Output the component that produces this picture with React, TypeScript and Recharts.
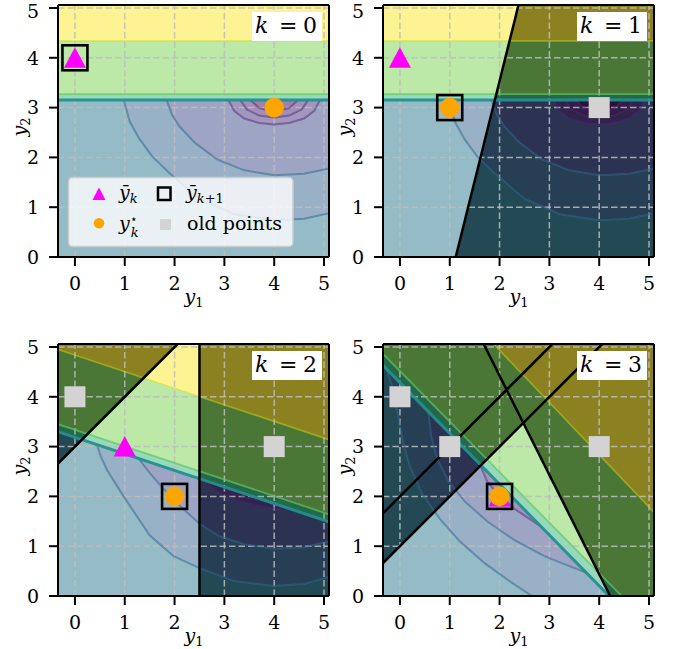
import React from 'react';
import { ComposedChart, XAxis, YAxis, Area, Line, Scatter, ReferenceLine, Legend, Label } from 'recharts';

type P = [number, number];

const FONT = "'DejaVu Serif', 'Liberation Serif', serif";
const X_DOMAIN: [number, number] = [-0.34, 5.1];
const Y_DOMAIN: [number, number] = [0, 5.06];
const AXIS_TICKS = [0, 1, 2, 3, 4, 5];
const GRID_X = [0, 1, 2, 3, 4, 5];
const GRID_Y = [1, 2, 3, 4, 5];
const PANEL_K = [0, 1, 2, 3];

// ---- k = 0 and k = 1 (same landscape) ----
const K01_YELLOW_EDGE = 4.34;
const K01_GREEN_EDGE = 3.27;
const K01_FEAS_EDGE = 3.15;
const K01_ARC1: P[] = [[0.98, 3.15], [1.1, 2.72], [1.3, 2.36], [1.55, 2.02], [1.9, 1.68], [2.5, 1.17], [3.2, 0.86], [4.0, 0.74], [4.6, 0.77], [5.1, 0.88]];
const K01_ARC2: P[] = [[1.84, 3.15], [1.95, 2.85], [2.1, 2.62], [2.4, 2.3], [2.85, 1.96], [3.4, 1.74], [4.0, 1.64], [4.6, 1.67], [5.1, 1.78]];
const K01_ARC3: P[] = [[3.08, 3.15], [3.2, 2.93], [3.4, 2.78], [3.7, 2.69], [4.0, 2.66], [4.3, 2.69], [4.6, 2.78], [4.8, 2.93], [4.92, 3.15]];
const K01_ARC4: P[] = [[3.32, 3.15], [3.45, 2.96], [3.7, 2.84], [4.0, 2.8], [4.3, 2.84], [4.55, 2.96], [4.68, 3.15]];
const K01_ARC5: P[] = [[3.52, 3.15], [3.7, 2.99], [4.0, 2.91], [4.3, 2.99], [4.48, 3.15]];
const K1_CUT: P[] = [[1.12, 0], [2.38, 5.06]];

// ---- k = 2 ----
const K2_YELLOW_EDGE: P[] = [[-0.34, 4.95], [5.1, 3.14]];
const K2_GREEN_EDGE: P[] = [[-0.34, 3.45], [5.1, 1.64]];
const K2_FEAS_EDGE: P[] = [[-0.34, 3.3], [5.1, 1.49]];
const K2_ARC1: P[] = [[0.44, 3.04], [0.52, 2.8], [0.65, 2.52], [0.97, 2.01], [1.5, 1.22], [1.98, 0.8], [2.48, 0.57], [3.19, 0.3], [3.99, 0.2], [4.6, 0.24], [5.1, 0.38]];
const K2_ARC2: P[] = [[1.28, 2.76], [1.5, 2.47], [1.75, 2.18], [2.05, 1.86], [2.5, 1.45], [2.9, 1.2], [3.4, 1.04], [4.0, 0.95], [4.6, 0.98], [5.1, 1.1]];
const K2_ARC3: P[] = [[2.5, 2.355], [2.85, 2.1], [3.25, 1.92], [3.65, 1.81], [4.05, 1.75], [4.45, 1.706]];
const K2_ARC4: P[] = [[2.85, 2.24], [3.2, 2.05], [3.6, 1.94], [3.95, 1.873]];
const K2_CUT_A: P[] = [[-0.34, 2.66], [2.06, 5.06]];
const K2_CUT_B: P[] = [[2.5, 0], [2.5, 5.06]];

// ---- k = 3 ----
const K3_YELLOW_EDGE: P[] = [[1.88, 5.06], [5.1, 1.68]];
const K3_GREEN_EDGE: P[] = [[-0.34, 4.86], [4.45, 0]];
const K3_FEAS_EDGE: P[] = [[-0.34, 4.63], [4.2, 0]];
const K3_ARC1: P[] = [[-0.27, 4.56], [-0.15, 4.2], [-0.05, 3.7], [0.06, 3.1], [0.2, 2.6], [0.45, 2.05], [0.8, 1.55], [1.2, 1.1], [1.7, 0.66], [2.2, 0.3], [2.65, 0]];
const K3_ARC2: P[] = [[0.57, 3.7], [0.63, 3.2], [0.75, 2.75], [0.98, 2.3], [1.3, 1.9], [1.75, 1.5], [2.3, 1.12], [2.9, 0.8], [3.4, 0.6], [3.74, 0.47]];
const K3_ARC3: P[] = [[1.6, 2.65], [1.75, 2.3], [2.0, 2.0], [2.3, 1.75], [2.6, 1.55], [2.85, 1.38]];
const K3_CUT_1: P[] = [[-0.34, 0.66], [4.06, 5.06]];
const K3_CUT_2: P[] = [[-0.34, 1.66], [3.06, 5.06]];
const K3_CUT_3: P[] = [[1.68, 5.06], [4.22, 0]];
const K3_CUT_CORNER: P = [2.48, 3.48];

// ---- markers per panel ----
const TRIANGLE_POINTS: P[] = [[0, 4], [0, 4], [1, 3], [2, 2]];
const BOX_POINTS: P[] = [[0, 4], [1, 3], [2, 2], [2, 2]];
const STAR_POINTS: P[] = [[4, 3], [1, 3], [2, 2], [2, 2]];
const OLD_POINTS: P[][] = [[], [[4, 3]], [[0, 4], [4, 3]], [[0, 4], [1, 3], [4, 3]]];

// ---- colours ----
const C_YELLOW = '#fde725';
const C_GREEN = '#7ad151';
const C_TEAL = '#2fb47c';
const C_L0 = '#2a788e';
const C_L1 = '#33638d';
const C_L2 = '#3e4a89';
const C_L3 = '#472d7b';
const C_L4 = '#481f70';
const C_L5 = '#440154';
const C_DARK = '#1a1a1a';

const PAD = 8; // extra room above each plot so tick text is not clipped
const W = 337;
const H = 324 + PAD;
const PANEL_POS: P[] = [[0, -PAD], [325, -PAD], [0, 339 - PAD], [325, 339 - PAD]];

type Fill = { pts: P[]; color: string };
type Stroke = { pts: P[]; color: string; width: number; opacity: number };

const XL = X_DOMAIN[0];
const XR = X_DOMAIN[1];
const YT = Y_DOMAIN[1];
const rev = (a: P[]): P[] => [...a].reverse();
const close = (a: P[]): P[] => [...a, a[0]];
const toData = (a: P[]) => a.map(([x, y]) => ({ x, y }));
const hline = (y: number): P[] => [[XL, y], [XR, y]];

const blue = (pts: P[]): Stroke => ({ pts, color: '#31688e', width: 2, opacity: 0.55 });
const purple = (pts: P[]): Stroke => ({ pts, color: '#482878', width: 2, opacity: 0.5 });
const yel = (pts: P[]): Stroke => ({ pts, color: '#d2e21b', width: 1.6, opacity: 0.5 });
const grn = (pts: P[]): Stroke => ({ pts, color: '#5ec962', width: 1.8, opacity: 0.7 });
const teal = (pts: P[]): Stroke => ({ pts, color: '#21918c', width: 3, opacity: 0.95 });

const k01Fills: Fill[] = [
  { pts: [[XL, K01_YELLOW_EDGE], [XR, K01_YELLOW_EDGE], [XR, YT], [XL, YT]], color: C_YELLOW },
  { pts: [[XL, K01_GREEN_EDGE], [XR, K01_GREEN_EDGE], [XR, K01_YELLOW_EDGE], [XL, K01_YELLOW_EDGE]], color: C_GREEN },
  { pts: [[XL, K01_FEAS_EDGE], [XR, K01_FEAS_EDGE], [XR, K01_GREEN_EDGE], [XL, K01_GREEN_EDGE]], color: C_TEAL },
  { pts: [[XL, 0], [XR, 0], ...rev(K01_ARC1), [XL, K01_FEAS_EDGE]], color: C_L0 },
  { pts: [...K01_ARC1, ...rev(K01_ARC2)], color: C_L1 },
  { pts: [...K01_ARC2, [XR, K01_FEAS_EDGE], ...rev(K01_ARC3)], color: C_L2 },
  { pts: [...K01_ARC3, ...rev(K01_ARC4)], color: C_L3 },
  { pts: [...K01_ARC4, ...rev(K01_ARC5)], color: C_L4 },
  { pts: [...K01_ARC5], color: C_L5 },
];
const k01Lines: Stroke[] = [
  yel(hline(K01_YELLOW_EDGE)), grn(hline(K01_GREEN_EDGE)),
  blue(K01_ARC1), blue(K01_ARC2), purple(K01_ARC3), purple(K01_ARC4), purple(K01_ARC5),
  teal(hline(K01_FEAS_EDGE)),
];

const k2Fills: Fill[] = [
  { pts: [K2_YELLOW_EDGE[0], K2_YELLOW_EDGE[1], [XR, YT], [XL, YT]], color: C_YELLOW },
  { pts: [K2_GREEN_EDGE[0], K2_GREEN_EDGE[1], K2_YELLOW_EDGE[1], K2_YELLOW_EDGE[0]], color: C_GREEN },
  { pts: [K2_FEAS_EDGE[0], K2_FEAS_EDGE[1], K2_GREEN_EDGE[1], K2_GREEN_EDGE[0]], color: C_TEAL },
  { pts: [[XL, 0], [XR, 0], ...rev(K2_ARC1), K2_FEAS_EDGE[0]], color: C_L0 },
  { pts: [...K2_ARC1, ...rev(K2_ARC2)], color: C_L1 },
  { pts: [...K2_ARC2, K2_FEAS_EDGE[1], ...rev(K2_ARC3)], color: C_L2 },
  { pts: [...K2_ARC3, ...rev(K2_ARC4)], color: C_L3 },
  { pts: [...K2_ARC4], color: C_L4 },
];
const k2Lines: Stroke[] = [
  yel(K2_YELLOW_EDGE), grn(K2_GREEN_EDGE),
  blue(K2_ARC1), blue(K2_ARC2), purple(K2_ARC3), purple(K2_ARC4),
  teal(K2_FEAS_EDGE),
];

const k3Fills: Fill[] = [
  { pts: [K3_YELLOW_EDGE[0], K3_YELLOW_EDGE[1], [XR, YT]], color: C_YELLOW },
  { pts: [K3_GREEN_EDGE[0], K3_GREEN_EDGE[1], [XR, 0], K3_YELLOW_EDGE[1], K3_YELLOW_EDGE[0], [XL, YT]], color: C_GREEN },
  { pts: [K3_FEAS_EDGE[0], K3_FEAS_EDGE[1], K3_GREEN_EDGE[1], K3_GREEN_EDGE[0]], color: C_TEAL },
  { pts: [[XL, 0], ...rev(K3_ARC1), K3_FEAS_EDGE[0]], color: C_L0 },
  { pts: [...K3_ARC1, K3_FEAS_EDGE[1], ...rev(K3_ARC2)], color: C_L1 },
  { pts: [...K3_ARC2, ...rev(K3_ARC3)], color: C_L2 },
  { pts: [...K3_ARC3], color: C_L3 },
];
const k3Lines: Stroke[] = [
  yel(K3_YELLOW_EDGE), grn(K3_GREEN_EDGE),
  blue(K3_ARC1), blue(K3_ARC2), purple(K3_ARC3),
  teal(K3_FEAS_EDGE),
];

const SHADES: P[][][] = [
  [],
  [[K1_CUT[0], [XR, 0], [XR, YT], K1_CUT[1]]],
  [[K2_CUT_A[0], K2_CUT_A[1], [XL, YT]], [K2_CUT_B[0], [XR, 0], [XR, YT], K2_CUT_B[1]]],
  [[K3_CUT_1[0], K3_CUT_CORNER, K3_CUT_3[1], [XR, 0], [XR, YT], [XL, YT]]],
];
const CUTS: P[][][] = [[], [K1_CUT], [K2_CUT_A, K2_CUT_B], [K3_CUT_1, K3_CUT_2, K3_CUT_3]];
const FILLS: Fill[][] = [k01Fills, k01Fills, k2Fills, k3Fills];
const LINES: Stroke[][] = [k01Lines, k01Lines, k2Lines, k3Lines];

const gridLines: P[][] = [
  ...GRID_X.map((v): P[] => [[v, 0], [v, YT]]),
  ...GRID_Y.map((v): P[] => [[XL, v], [XR, v]]),
];

const TriangleShape = (p: any) => (
  <polygon points={`${p.cx},${p.cy - 10.5} ${p.cx - 11},${p.cy + 10} ${p.cx + 11},${p.cy + 10}`} fill="#ff00ff" />
);
const StarShape = (p: any) => <circle cx={p.cx} cy={p.cy} r={9.8} fill="#ffa500" />;
const BoxShape = (p: any) => (
  <rect x={p.cx - 12.5} y={p.cy - 12.5} width={25} height={25} fill="none" stroke="#000" strokeWidth={2.6} />
);
const OldShape = (p: any) => <rect x={p.cx - 10.5} y={p.cy - 10.5} width={21} height={21} fill="#d3d3d3" />;

const YTick = (props: any) => {
  const { x, y, payload, minBase } = props;
  const base = Math.max(y + 6.75, minBase || 0);
  return (
    <text x={x} y={base} textAnchor="end" fontSize={19} fontFamily={FONT} fill="#000">{payload.value}</text>
  );
};

const XLabelContent = (props: any) => {
  const vb = props.viewBox || {};
  const x = vb.x + vb.width / 2 - 9;
  const y = vb.y + 46;
  return (
    <text x={x} y={y} fontFamily={FONT} fontSize={19} fill="#000">
      <tspan fontStyle="italic">y</tspan>
      <tspan fontSize={13} dy={3.5}>1</tspan>
    </text>
  );
};

const YLabelContent = (props: any) => {
  const vb = props.viewBox || {};
  const cx = vb.x + 17.5;
  const cy = vb.y + vb.height / 2 - 4;
  return (
    <text x={cx} y={cy} transform={`rotate(-90 ${cx} ${cy})`} textAnchor="middle" fontFamily={FONT} fontSize={19} fill="#000">
      <tspan fontStyle="italic">y</tspan>
      <tspan fontSize={13} dy={4}>2</tspan>
    </text>
  );
};

function Overlay({ k, legend }: { k: number; legend: boolean }) {
  return (
    <svg width={W} height={H} style={{ position: 'absolute', left: 0, top: 0, overflow: 'visible' }} fontFamily={FONT}>
      <g transform={`translate(0 ${PAD})`}>
        <rect x={252} y={12} width={70} height={29} fill="#fff" />
        <text y={33} fontSize={22} fill="#000">
          <tspan x={255} fontStyle="italic">k</tspan>
          <tspan x={279}>=</tspan>
          <tspan x={303}>{k}</tspan>
        </text>
        {legend && (
          <g>
            <rect x={68.5} y={177.5} width={224.5} height={69} rx={4} fill="#fff" fillOpacity={0.8} stroke="#cccccc" strokeWidth={1.5} />
            <polygon points="99,187.5 92.5,200 105.5,200" fill="#ff00ff" />
            <text x={119} y={199} fontSize={19} fill="#000">
              <tspan fontStyle="italic">ȳ</tspan>
              <tspan fontStyle="italic" fontSize={13} dy={4}>k</tspan>
            </text>
            <rect x={158} y={187.5} width={12.5} height={12.5} fill="none" stroke="#000" strokeWidth={2.5} />
            <text x={186} y={199} fontSize={19} fill="#000">
              <tspan fontStyle="italic">ȳ</tspan>
              <tspan fontStyle="italic" fontSize={13} dy={4}>k</tspan>
              <tspan fontSize={13}>+1</tspan>
            </text>
            <circle cx={99} cy={223.3} r={5.3} fill="#ffa500" />
            <text x={119} y={230} fontSize={19} fill="#000">
              <tspan fontStyle="italic">y</tspan>
              <tspan fontSize={12} dy={-7}>⋆</tspan>
              <tspan fontStyle="italic" fontSize={13} dx={-7} dy={14}>k</tspan>
            </text>
            <rect x={160} y={219} width={11} height={11} fill="#d3d3d3" />
            <text x={187} y={230} fontSize={19} fill="#000">old points</text>
          </g>
        )}
      </g>
    </svg>
  );
}

function Panel({ idx }: { idx: number }) {
  const k = PANEL_K[idx];
  const [left, top] = PANEL_POS[idx];
  const minBase = idx < 2 ? PAD + 18 : 0;
  return (
    <div style={{ position: 'absolute', left, top, width: W, height: H }}>
      <ComposedChart width={W} height={H} margin={{ top: 5 + PAD, right: 8, bottom: 27, left: 8 }}>
        <XAxis
          type="number" dataKey="x" domain={X_DOMAIN} allowDataOverflow ticks={AXIS_TICKS} interval={0}
          height={40} tickSize={9} tickMargin={11}
          axisLine={{ stroke: '#000', strokeWidth: 2 }} tickLine={{ stroke: '#000', strokeWidth: 2 }}
          tick={{ fill: '#000', fontSize: 19, fontFamily: FONT }}
        >
          <Label content={XLabelContent} />
        </XAxis>
        <YAxis
          type="number" dataKey="y" domain={Y_DOMAIN} allowDataOverflow ticks={AXIS_TICKS} interval={0}
          width={50} tickSize={9} tickMargin={10}
          axisLine={{ stroke: '#000', strokeWidth: 2 }} tickLine={{ stroke: '#000', strokeWidth: 2 }}
          tick={(p: any) => <YTick {...p} minBase={minBase} />}
        >
          <Label content={YLabelContent} />
        </YAxis>
        {SHADES[idx].map((pts, i) => (
          <Area key={`s${i}`} data={toData(close(pts))} dataKey="y" type="linear" stroke="none"
            fill={C_DARK} fillOpacity={1} isAnimationActive={false} dot={false} activeDot={false} />
        ))}
        {FILLS[idx].map((f, i) => (
          <Area key={`f${i}`} data={toData(close(f.pts))} dataKey="y" type="linear" stroke="none"
            fill={f.color} fillOpacity={0.5} isAnimationActive={false} dot={false} activeDot={false} />
        ))}
        {gridLines.map((pts, i) => (
          <Line key={`g${i}`} data={toData(pts)} dataKey="y" type="linear" stroke="#bdbdbd" strokeOpacity={0.85}
            strokeWidth={1.5} strokeDasharray="6.5 3" dot={false} activeDot={false} isAnimationActive={false} />
        ))}
        {LINES[idx].map((s, i) => (
          <Line key={`c${i}`} data={toData(s.pts)} dataKey="y" type="linear" stroke={s.color} strokeOpacity={s.opacity}
            strokeWidth={s.width} dot={false} activeDot={false} isAnimationActive={false} />
        ))}
        {CUTS[idx].map((pts, i) => (
          <Line key={`k${i}`} data={toData(pts)} dataKey="y" type="linear" stroke="#000"
            strokeWidth={2.5} dot={false} activeDot={false} isAnimationActive={false} />
        ))}
        <ReferenceLine y={YT} stroke="#000" strokeWidth={2} />
        <ReferenceLine x={XR} stroke="#000" strokeWidth={2} />
        <Scatter data={toData(OLD_POINTS[idx])} shape={OldShape} isAnimationActive={false} />
        <Scatter data={toData([TRIANGLE_POINTS[idx]])} shape={TriangleShape} isAnimationActive={false} />
        <Scatter data={toData([STAR_POINTS[idx]])} shape={StarShape} isAnimationActive={false} />
        <Scatter data={toData([BOX_POINTS[idx]])} shape={BoxShape} isAnimationActive={false} />
        <Legend
          layout="vertical" align="center" verticalAlign="middle"
          wrapperStyle={{ position: 'absolute', left: 0, top: 0, width: W, height: H, pointerEvents: 'none' }}
          content={() => <Overlay k={k} legend={idx === 0} />}
        />
      </ComposedChart>
    </div>
  );
}

export default function App() {
  return (
    <div style={{ position: 'absolute', left: 0, top: 0, width: 675, height: 649, background: '#fff', overflow: 'hidden' }}>
      {PANEL_K.map((_, i) => <Panel key={i} idx={i} />)}
    </div>
  );
}
